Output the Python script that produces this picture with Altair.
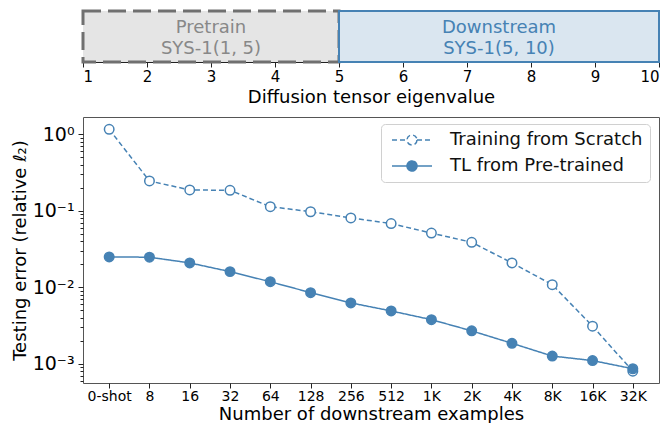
import altair as alt
import pandas as pd

# ---- data -------------------------------------------------------------
examples = ["0-shot", "8", "16", "32", "64", "128", "256", "512",
            "1K", "2K", "4K", "8K", "16K", "32K"]
scratch_err = [1.16, 0.245, 0.187, 0.185, 0.113, 0.097, 0.0805, 0.068,
               0.051, 0.0387, 0.0208, 0.0108, 0.0031, 0.00080]
tl_err = [0.0249, 0.0247, 0.0208, 0.0160, 0.0118, 0.0085, 0.00624, 0.0049,
          0.00377, 0.00269, 0.00185, 0.00126, 0.0011, 0.00086]
series_names = ["Training from Scratch", "TL from Pre-trained"]

regions = ["Pretrain", "Downstream"]
region_start = [1, 5]
region_end = [5, 10]
region_text = ["Pretrain\nSYS-1(1, 5)", "Downstream\nSYS-1(5, 10)"]
eig_ticks = list(range(1, 11))

FONT = "DejaVu Sans"
BLUE = "steelblue"

rows = []
for name, vals in zip(series_names, [scratch_err, tl_err]):
    for ex, v in zip(examples, vals):
        rows.append({"series": name, "examples": ex, "error": v})
df = pd.DataFrame(rows)

reg_df = pd.DataFrame({"region": regions, "start": region_start,
                       "end": region_end, "label": region_text})

# ---- top strip: eigenvalue ranges ------------------------------------
x_eig = alt.X("start:Q", scale=alt.Scale(domain=[1, 10], nice=False, zero=False),
              axis=alt.Axis(values=eig_ticks, title="Diffusion tensor eigenvalue",
                            grid=False, tickSize=5, labelFontSize=15,
                            titleFontSize=18, titleFontWeight="normal",
                            labelPadding=2, titlePadding=4, domainColor="#222",
                            tickColor="#222", labelColor="#000", titleColor="#000",
                            labelFont=FONT, titleFont=FONT, format="d"))

pre_rect = alt.Chart(reg_df).transform_filter(
    alt.datum.region == "Pretrain"
).mark_rect(fill="#e5e5e5", stroke="#707070", strokeWidth=3,
            strokeDash=[18, 7]).encode(x=x_eig, x2="end:Q")

down_rect = alt.Chart(reg_df).transform_filter(
    alt.datum.region == "Downstream"
).mark_rect(fill="#dae6f0", stroke=BLUE, strokeWidth=2).encode(x=x_eig, x2="end:Q")

region_labels = alt.Chart(reg_df).transform_calculate(
    mid="(datum.start + datum.end) / 2"
).mark_text(lineBreak="\n", fontSize=18, font=FONT, lineHeight=21,
            baseline="middle", align="center", dy=-9).encode(
    x=alt.X("mid:Q", scale=alt.Scale(domain=[1, 10], nice=False, zero=False)),
    text="label:N",
    color=alt.Color("region:N", scale=alt.Scale(domain=regions,
                                                  range=["#888888", BLUE]),
                    legend=None),
)

top = alt.layer(pre_rect, down_rect, region_labels).properties(
    width=576, height=51, view=alt.ViewConfig(stroke="transparent"))

# ---- bottom: testing error vs number of examples ---------------------
lo, hi = 5.6e-4, 1.68
ytick_vals = [m * 10.0 ** e for e in range(-4, 1) for m in range(1, 10)
              if lo <= m * 10.0 ** e <= hi]
LOG = "log(datum.value)/LN10"
MAJOR = f"abs({LOG} - round({LOG})) < 1e-6"
SUP = (f"round({LOG}) == 0 ? '⁰' : round({LOG}) == -1 ? '⁻¹' : "
       f"round({LOG}) == -2 ? '⁻²' : '⁻³'")

# legend sits inside the lower panel's upper-right corner
legend_symbol = ("M-1,0L2,0M4,0L7,0M4,0A1,1,0,1,1,2,0A1,1,0,1,1,4,0")
legend = alt.Legend(title=None, orient="none", legendX=298, legendY=113,
                    symbolType=legend_symbol, symbolSize=100,
                    symbolStrokeWidth=1.5, symbolOpacity=1,
                    labelFontSize=18, labelFont=FONT, labelColor="#111",
                    labelOffset=44, labelLimit=400, rowPadding=8, padding=7,
                    fillColor="white", strokeColor="#d0d0d0", cornerRadius=4)

x_ex = alt.X("examples:O", sort=examples,
             scale=alt.Scale(type="point", padding=0.65),
             axis=alt.Axis(labelAngle=0, title="Number of downstream examples",
                           grid=False, tickSize=5, labelFontSize=14,
                           titleFontSize=18, titleFontWeight="normal",
                           labelPadding=1, titlePadding=2, domain=False,
                           tickColor="#222", labelColor="#000", titleColor="#000",
                           labelFont=FONT, titleFont=FONT))
y_err = alt.Y("error:Q", scale=alt.Scale(type="log", domain=[lo, hi], nice=False),
              axis=alt.Axis(values=ytick_vals, grid=False, domain=False,
                            labelExpr=f"{MAJOR} ? '10' + ({SUP}) : ''",
                            tickSize={"condition": {"test": MAJOR, "value": 5},
                                      "value": 3},
                            tickColor="#222", labelFontSize=19, labelFont=FONT,
                            labelColor="#000", labelPadding=4,
                            title="Testing error (relative ℓ₂)",
                            titleFontSize=18, titleFontWeight="normal",
                            titleFont=FONT, titleColor="#000", titlePadding=3))

stroke_enc = alt.Stroke("series:N", scale=alt.Scale(domain=series_names,
                                                     range=[BLUE, BLUE]),
                        legend=legend)
lines = alt.Chart(df).mark_line(strokeWidth=1.5).encode(
    x=x_ex, y=y_err, stroke=stroke_enc,
    strokeDash=alt.StrokeDash("series:N",
                              scale=alt.Scale(domain=series_names,
                                              range=[[5, 3], [1, 0]]),
                              legend=legend),
    detail="series:N",
)
points = alt.Chart(df).mark_point(shape="circle", size=90, strokeWidth=1.5,
                                  opacity=1).encode(
    x=x_ex, y=y_err, stroke=stroke_enc,
    fill=alt.Fill("series:N", scale=alt.Scale(domain=series_names,
                                               range=["white", BLUE]),
                  legend=legend),
)

bottom = alt.layer(lines, points).properties(
    width=576, height=266, view=alt.ViewConfig(stroke="#555", strokeWidth=1))

chart = alt.vconcat(top, bottom, spacing=9).resolve_scale(
    x="independent", y="independent", color="independent"
).properties(
    padding={"left": 10, "top": 9, "right": 5, "bottom": 2}
).configure(font=FONT)

chart.save("out.html", embed_options={"renderer": "svg", "actions": False})
